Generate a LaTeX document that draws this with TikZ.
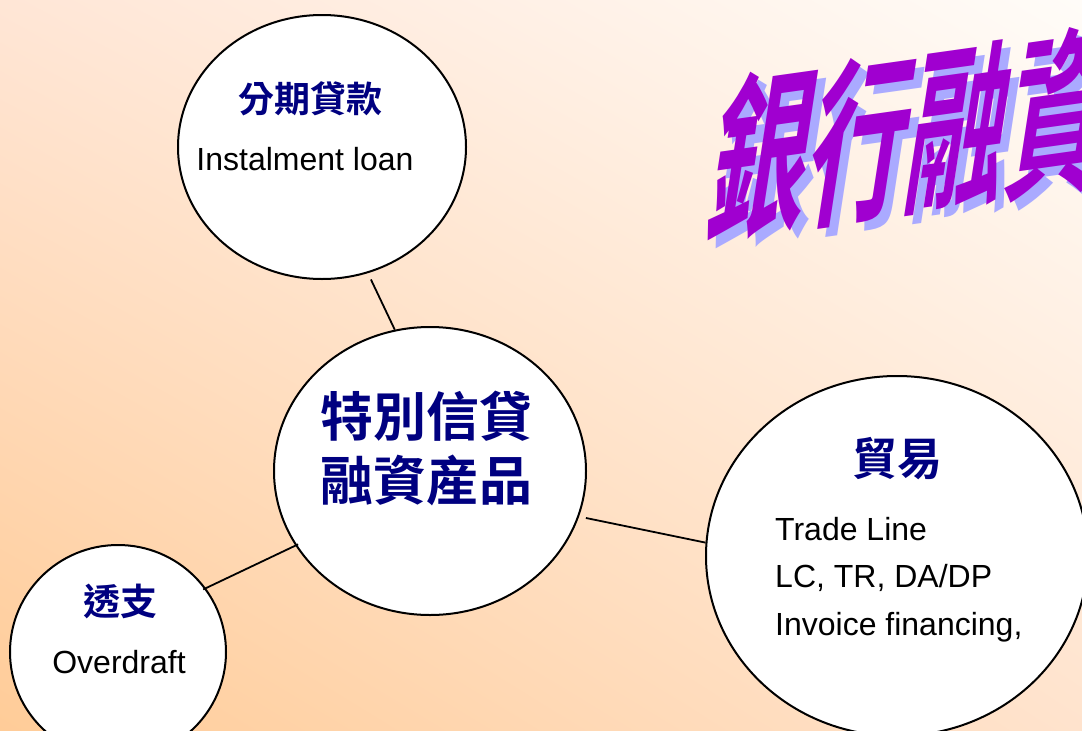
\documentclass[tikz,border=0pt]{standalone}
\usepackage{fontspec}
\setmainfont{Liberation Sans}
\newfontfamily\cjkb{Noto Sans CJK TC Bold}
\usetikzlibrary{positioning, shapes.geometric, shadings}
\definecolor{navy}{HTML}{000080}
\definecolor{bgll}{HTML}{FFCC98}
\definecolor{bgul}{HTML}{FFE6D6}
\definecolor{bgur}{HTML}{FFFCF8}
\definecolor{bglr}{HTML}{FFE3CD}
\definecolor{artmagenta}{HTML}{A000D0}
\definecolor{artshadow}{HTML}{AAAAFF}
\tikzset{
bubble/.style = {ellipse, draw, fill = white, line width = 2pt, inner sep = 0pt},
link/.style = {line width = 1.8pt},
head/.style = {font = \cjkb\fontsize{36}{40}\selectfont, text = navy, inner sep = 0pt},
bighead/.style = {font = \cjkb\fontsize{53}{64}\selectfont, text = navy, inner sep = 0pt,
   align = center},
body/.style = {font = \fontsize{32}{38}\selectfont, inner sep = 0pt, anchor = base},
wordart/.style = {font = \cjkb\fontsize{100}{100}\selectfont, inner sep = 0pt,
   rotate = 8, xslant = 0.3, xscale = 1.0, yscale = 1.75}
}
\begin{document}
\begin{tikzpicture}[x = 1pt, y = -1pt]

\path [clip] (0,0) rectangle (1082,731);
\shade [lower left = bgll, upper left = bgul, upper right = bgur, lower right = bglr]
   (0,0) rectangle (1082,731);

%% The title
\coordinate (titlepos) at (912,133);
\node [wordart, text = artshadow] (titleshadow) at ([shift = {(8,8)}]titlepos) {銀行融資};
\node [wordart, text = artmagenta] (title) at (titlepos) {銀行融資};

%% The bubbles
\node [bubble, minimum width = 288pt, minimum height = 264pt] (instal) at (322,147) {};
\node [bubble, minimum width = 312pt, minimum height = 288pt] (special) at (430,471) {};
\node [bubble, minimum width = 216pt, minimum height = 214pt] (overdraft) at (118,652) {};
\node [bubble, minimum width = 382pt, minimum height = 360pt] (trade) at (897,556) {};

%% Links
\draw [link, shorten < = 7pt] (instal.290) -- (special.104);
\draw [link, shorten < = -3pt, shorten > = -3pt] (overdraft.36) -- (special.209);
\draw [link, shorten < = 7pt] (special.343) -- (trade.176);

%% Texts
\node [head] (instalhead) at (310,99) {分期貸款};
\node [body] (instaltext) at (305,170) {Instalment loan};

\node [bighead] (specialhead) at (426,448) {特別信貸\\融資産品};

\node [head, font = \cjkb\fontsize{37}{40}\selectfont] (overdrafthead) at (120,601) {透支};
\node [body] (overdrafttext) at (119,673) {Overdraft};

\node [head, font = \cjkb\fontsize{45}{50}\selectfont] (tradehead) at (897,459) {貿易};
\node [body, anchor = base west] (trade1) at (775,540) {Trade Line};
\node [body, anchor = base west] (trade2) at ([yshift = -47.5pt]trade1.base west) {LC, TR, DA/DP};
\node [body, anchor = base west] (trade3) at ([yshift = -47.5pt]trade2.base west) {Invoice financing,};

\end{tikzpicture}
\end{document}
